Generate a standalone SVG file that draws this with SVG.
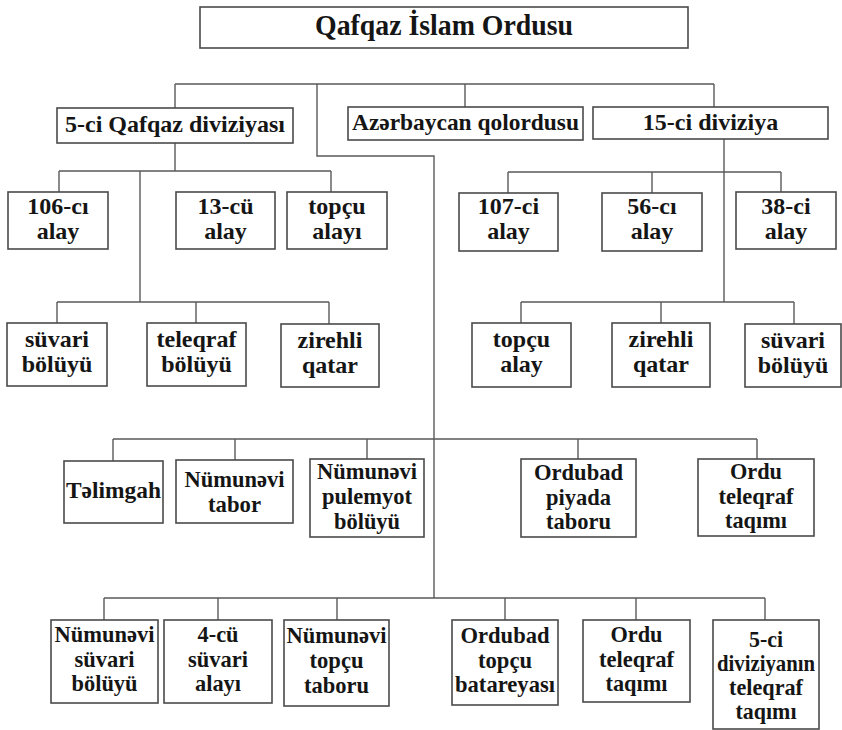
<svg xmlns="http://www.w3.org/2000/svg" width="842" height="730" viewBox="0 0 842 730" font-family="'Liberation Serif', 'DejaVu Serif', serif">
<style>
.box{fill:#fff;stroke:#4a4a4a;stroke-width:1.6}
.ln{fill:none;stroke:#5a5a5a;stroke-width:1.4}
text{font-family:'Liberation Serif','DejaVu Serif',serif;font-weight:bold;fill:#151515;text-anchor:middle}
.t1{font-size:29px}
.t2{font-size:24px}
.t3{font-size:24px}
.t4{font-size:23px}
</style>
<rect width="842" height="730" fill="#fff"/>
<g id="connectors">
<path class="ln" d="M175 84H714M175 84V108M317 84V156H434V598M465 84V107M714 84V107"/>
<path class="ln" d="M175 143V171M59 171H331M59 171V192M331 171V192M140 171V302M57 302H329M57 302V323M196 302V323M329 302V324"/>
<path class="ln" d="M724 139V302M508 172H781M508 172V193M652 172V193M781 172V192M521 302H794M521 302V323M661 302V323M794 302V324"/>
<path class="ln" d="M113 439H757M113 439V461M235 439V460M367 439V459M578 439V459M757 439V459"/>
<path class="ln" d="M104 598H765M104 598V620M218 598V620M337 598V620M505 598V620M636 598V620M765 598V620"/>
</g>
<g id="n-root"><rect class="box" x="200" y="7" width="488" height="41"/><text class="t1" x="444" y="35" textLength="258" lengthAdjust="spacingAndGlyphs">Qafqaz İslam Ordusu</text></g>
<g id="n-5ci"><rect class="box" x="57" y="108" width="236" height="35"/><text class="t2" x="175" y="132">5-ci Qafqaz diviziyası</text></g>
<g id="n-azer"><rect class="box" x="348" y="107" width="235" height="33"/><text class="t2" x="465.5" y="130" textLength="227" lengthAdjust="spacingAndGlyphs">Azərbaycan qolordusu</text></g>
<g id="n-15ci"><rect class="box" x="593" y="107" width="235" height="32"/><text class="t2" x="710.5" y="130">15-ci diviziya</text></g>

<g id="n-106"><rect class="box" x="8" y="192" width="100" height="57"/><text class="t2" x="58" y="214">106-cı</text><text class="t2" x="58" y="239">alay</text></g>
<g id="n-13"><rect class="box" x="176" y="192" width="99" height="57"/><text class="t2" x="225.5" y="214">13-cü</text><text class="t2" x="225.5" y="239">alay</text></g>
<g id="n-topcu1"><rect class="box" x="287" y="192" width="100" height="57"/><text class="t2" x="337" y="214">topçu</text><text class="t2" x="337" y="239">alayı</text></g>
<g id="n-suvari1"><rect class="box" x="7" y="323" width="100" height="63"/><text class="t2" x="57" y="347">süvari</text><text class="t2" x="57" y="372">bölüyü</text></g>
<g id="n-teleqraf1"><rect class="box" x="147" y="323" width="99" height="63"/><text class="t2" x="196.5" y="347">teleqraf</text><text class="t2" x="196.5" y="372">bölüyü</text></g>
<g id="n-zirehli1"><rect class="box" x="281" y="324" width="98" height="63"/><text class="t2" x="330" y="348">zirehli</text><text class="t2" x="330" y="373">qatar</text></g>

<g id="n-107"><rect class="box" x="459" y="193" width="99" height="58"/><text class="t2" x="508.5" y="214">107-ci</text><text class="t2" x="508.5" y="239">alay</text></g>
<g id="n-56"><rect class="box" x="602" y="193" width="100" height="58"/><text class="t2" x="652" y="214">56-cı</text><text class="t2" x="652" y="239">alay</text></g>
<g id="n-38"><rect class="box" x="736" y="192" width="100" height="57"/><text class="t2" x="786" y="214">38-ci</text><text class="t2" x="786" y="239">alay</text></g>
<g id="n-topcu2"><rect class="box" x="472" y="323" width="99" height="64"/><text class="t2" x="521.5" y="347">topçu</text><text class="t2" x="521.5" y="372">alay</text></g>
<g id="n-zirehli2"><rect class="box" x="612" y="323" width="98" height="64"/><text class="t2" x="661" y="347">zirehli</text><text class="t2" x="661" y="372">qatar</text></g>
<g id="n-suvari2"><rect class="box" x="745" y="324" width="96" height="63"/><text class="t2" x="793" y="348">süvari</text><text class="t2" x="793" y="373">bölüyü</text></g>

<g id="n-telimgah"><rect class="box" x="64" y="461" width="99" height="62"/><text class="t3" x="113.5" y="498" textLength="95" lengthAdjust="spacingAndGlyphs">Təlimgah</text></g>
<g id="n-numtabor"><rect class="box" x="176" y="460" width="117" height="63"/><text class="t3" x="234.5" y="487" textLength="100" lengthAdjust="spacingAndGlyphs">Nümunəvi</text><text class="t3" x="234.5" y="512" textLength="53" lengthAdjust="spacingAndGlyphs">tabor</text></g>
<g id="n-pulemyot"><rect class="box" x="310" y="459" width="114" height="78"/><text class="t3" x="367" y="479" textLength="100" lengthAdjust="spacingAndGlyphs">Nümunəvi</text><text class="t3" x="367" y="504" textLength="90" lengthAdjust="spacingAndGlyphs">pulemyot</text><text class="t3" x="367" y="529" textLength="66" lengthAdjust="spacingAndGlyphs">bölüyü</text></g>
<g id="n-ordpiyada"><rect class="box" x="521" y="459" width="115" height="78"/><text class="t3" x="578.5" y="480" textLength="89" lengthAdjust="spacingAndGlyphs">Ordubad</text><text class="t3" x="578.5" y="505" textLength="65" lengthAdjust="spacingAndGlyphs">piyada</text><text class="t3" x="578.5" y="529" textLength="65" lengthAdjust="spacingAndGlyphs">taboru</text></g>
<g id="n-ordutel1"><rect class="box" x="698" y="459" width="116" height="77"/><text class="t3" x="756" y="479" textLength="52" lengthAdjust="spacingAndGlyphs">Ordu</text><text class="t3" x="756" y="504" textLength="75" lengthAdjust="spacingAndGlyphs">teleqraf</text><text class="t3" x="756" y="528" textLength="62" lengthAdjust="spacingAndGlyphs">taqımı</text></g>

<g id="n-numsuvari"><rect class="box" x="51" y="620" width="107" height="83"/><text class="t3" x="104.5" y="642" textLength="100" lengthAdjust="spacingAndGlyphs">Nümunəvi</text><text class="t3" x="104.5" y="667" textLength="60" lengthAdjust="spacingAndGlyphs">süvari</text><text class="t3" x="104.5" y="691" textLength="66" lengthAdjust="spacingAndGlyphs">bölüyü</text></g>
<g id="n-4cu"><rect class="box" x="164" y="620" width="108" height="83"/><text class="t3" x="218" y="642" textLength="41" lengthAdjust="spacingAndGlyphs">4-cü</text><text class="t3" x="218" y="667" textLength="60" lengthAdjust="spacingAndGlyphs">süvari</text><text class="t3" x="218" y="691" textLength="46" lengthAdjust="spacingAndGlyphs">alayı</text></g>
<g id="n-numtopcu"><rect class="box" x="284" y="620" width="105" height="86"/><text class="t3" x="336.5" y="643" textLength="100" lengthAdjust="spacingAndGlyphs">Nümunəvi</text><text class="t3" x="336.5" y="668" textLength="54" lengthAdjust="spacingAndGlyphs">topçu</text><text class="t3" x="336.5" y="693" textLength="65" lengthAdjust="spacingAndGlyphs">taboru</text></g>
<g id="n-ordtopcu"><rect class="box" x="452" y="620" width="106" height="85"/><text class="t3" x="505" y="643" textLength="89" lengthAdjust="spacingAndGlyphs">Ordubad</text><text class="t3" x="505" y="668" textLength="54" lengthAdjust="spacingAndGlyphs">topçu</text><text class="t3" x="505" y="692" textLength="100" lengthAdjust="spacingAndGlyphs">batareyası</text></g>
<g id="n-ordutel2"><rect class="box" x="583" y="620" width="107" height="82"/><text class="t3" x="636.5" y="642" textLength="52" lengthAdjust="spacingAndGlyphs">Ordu</text><text class="t3" x="636.5" y="667" textLength="75" lengthAdjust="spacingAndGlyphs">teleqraf</text><text class="t3" x="636.5" y="691" textLength="62" lengthAdjust="spacingAndGlyphs">taqımı</text></g>
<g id="n-5citel"><rect class="box" x="713" y="620" width="106" height="109"/><text class="t4" x="766" y="647" textLength="34" lengthAdjust="spacingAndGlyphs">5-ci</text><text class="t4" x="766" y="671" textLength="98" lengthAdjust="spacingAndGlyphs">diviziyanın</text><text class="t4" x="766" y="695" textLength="74" lengthAdjust="spacingAndGlyphs">teleqraf</text><text class="t4" x="766" y="719" textLength="61" lengthAdjust="spacingAndGlyphs">taqımı</text></g>
</svg>
